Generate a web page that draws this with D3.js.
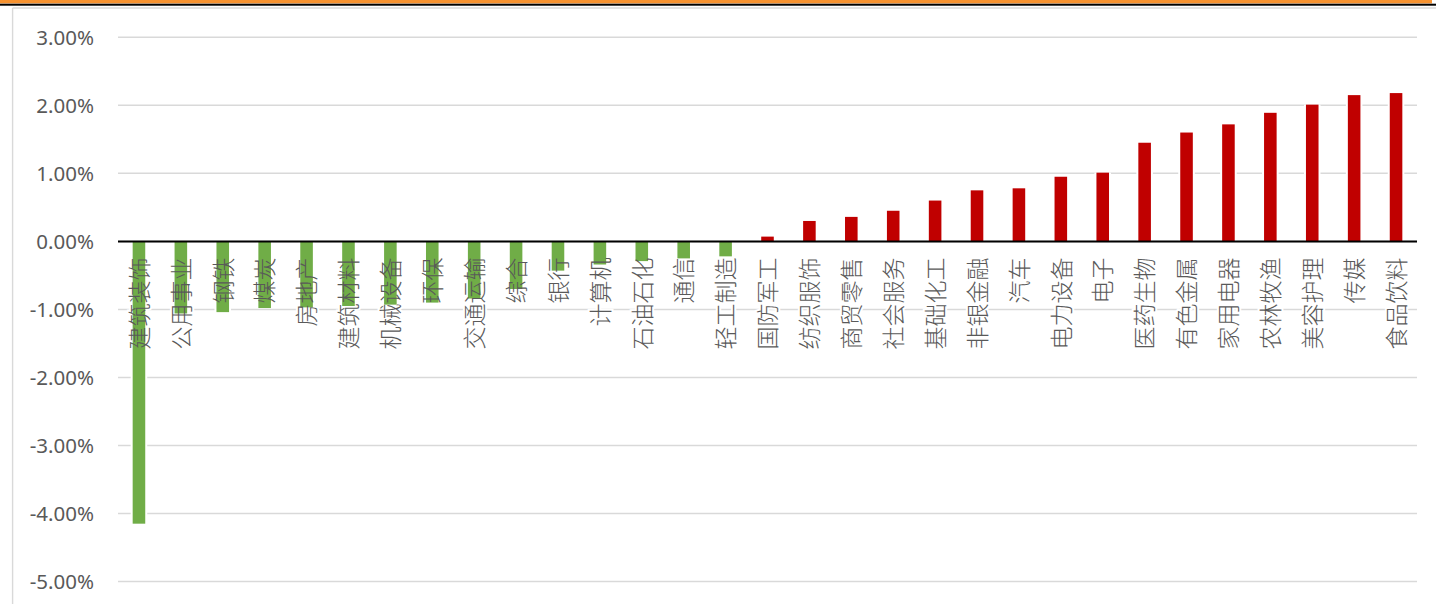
<!DOCTYPE html>
<html>
<head>
<meta charset="utf-8">
<script src="https://cdn.jsdelivr.net/npm/d3@7"></script>
<style>
  html, body { margin: 0; padding: 0; background: #fff; }
  svg { display: block; }
</style>
</head>
<body>
<svg id="chart" width="1436" height="604"></svg>
<script>
const categories = ["建筑装饰","公用事业","钢铁","煤炭","房地产","建筑材料","机械设备","环保","交通运输","综合","银行","计算机","石油石化","通信","轻工制造","国防军工","纺织服饰","商贸零售","社会服务","基础化工","非银金融","汽车","电力设备","电子","医药生物","有色金属","家用电器","农林牧渔","美容护理","传媒","食品饮料"];
const values = [-4.15,-1.06,-1.04,-0.98,-0.97,-0.95,-0.93,-0.90,-0.84,-0.70,-0.43,-0.34,-0.29,-0.25,-0.22,0.07,0.30,0.36,0.45,0.60,0.75,0.78,0.95,1.01,1.45,1.60,1.72,1.89,2.01,2.15,2.18];
const yTicks = [3,2,1,0,-1,-2,-3,-4,-5];

const svg = d3.select("#chart");
const W = 1436, H = 604;
const left = 118, right = 1417;

// header bands and frame
svg.append("rect").attr("x",0).attr("y",0).attr("width",1432).attr("height",3.4).attr("fill","#F7922F");
svg.append("rect").attr("x",0).attr("y",3.7).attr("width",W).attr("height",2).attr("fill","#000");
svg.append("line").attr("x1",12.6).attr("x2",W).attr("y1",8).attr("y2",8).attr("stroke","#D9D9D9").attr("stroke-width",1.4);
svg.append("line").attr("x1",12.6).attr("x2",12.6).attr("y1",8).attr("y2",H).attr("stroke","#D9D9D9").attr("stroke-width",1.4);

const x = d3.scaleBand().domain(categories).range([left, right]).paddingInner(0.7).paddingOuter(0.35);
const y = d3.scaleLinear().domain([-5, 3]).range([581.5, 37.3]);

// gridlines
svg.append("g").selectAll("line").data(yTicks).join("line")
  .attr("x1", left).attr("x2", right)
  .attr("y1", d => y(d)).attr("y2", d => y(d))
  .attr("stroke", "#D9D9D9").attr("stroke-width", 1.5);

// y axis labels
const fmt = d3.format(".2f");
const yAxis = d3.axisLeft(y).tickValues(yTicks).tickSize(0).tickPadding(0)
  .tickFormat(d => (d < 0 ? "-" : "") + fmt(Math.abs(d)) + "%");
const gy = svg.append("g").attr("transform", "translate(94,0)").call(yAxis);
gy.select(".domain").remove();
gy.selectAll("text").attr("font-family", "'Noto Sans', 'Open Sans', sans-serif")
  .attr("font-size", 20.5).attr("fill", "#595959").attr("dy", "0.35em");

const labelY = y(0) + 16;
const labelFont = "'Noto Sans CJK SC', sans-serif";
const labelSize = 23;

// label halos (cut gridlines)
svg.append("g").selectAll("text").data(categories).join("text")
  .attr("transform", d => `translate(${x(d) + x.bandwidth()/2},${labelY}) rotate(-90)`)
  .attr("text-anchor", "end").attr("dy", "0.38em")
  .attr("font-family", labelFont).attr("font-size", labelSize).attr("font-weight", 300)
  .attr("fill", "none").attr("stroke", "#fff").attr("stroke-width", 4)
  .text(d => d);

// bar halos
svg.append("g").selectAll("rect").data(categories).join("rect")
  .attr("x", d => x(d) - 2).attr("width", x.bandwidth() + 4)
  .attr("y", (d, i) => Math.min(y(values[i]), y(0)))
  .attr("height", (d, i) => Math.abs(y(values[i]) - y(0)))
  .attr("fill", "#fff");

// bars
svg.append("g").selectAll("rect").data(categories).join("rect")
  .attr("x", d => x(d)).attr("width", x.bandwidth())
  .attr("y", (d, i) => Math.min(y(values[i]), y(0)))
  .attr("height", (d, i) => Math.abs(y(values[i]) - y(0)))
  .attr("fill", (d, i) => values[i] < 0 ? "#70AD47" : "#C00000");

// labels
svg.append("g").selectAll("text").data(categories).join("text")
  .attr("transform", d => `translate(${x(d) + x.bandwidth()/2},${labelY}) rotate(-90)`)
  .attr("text-anchor", "end").attr("dy", "0.38em")
  .attr("font-family", labelFont).attr("font-size", labelSize).attr("font-weight", 300)
  .attr("fill", "#595959")
  .text(d => d);

// zero axis line
svg.append("line").attr("x1", left).attr("x2", right)
  .attr("y1", y(0)).attr("y2", y(0))
  .attr("stroke", "#000").attr("stroke-width", 2);
</script>
</body>
</html>
